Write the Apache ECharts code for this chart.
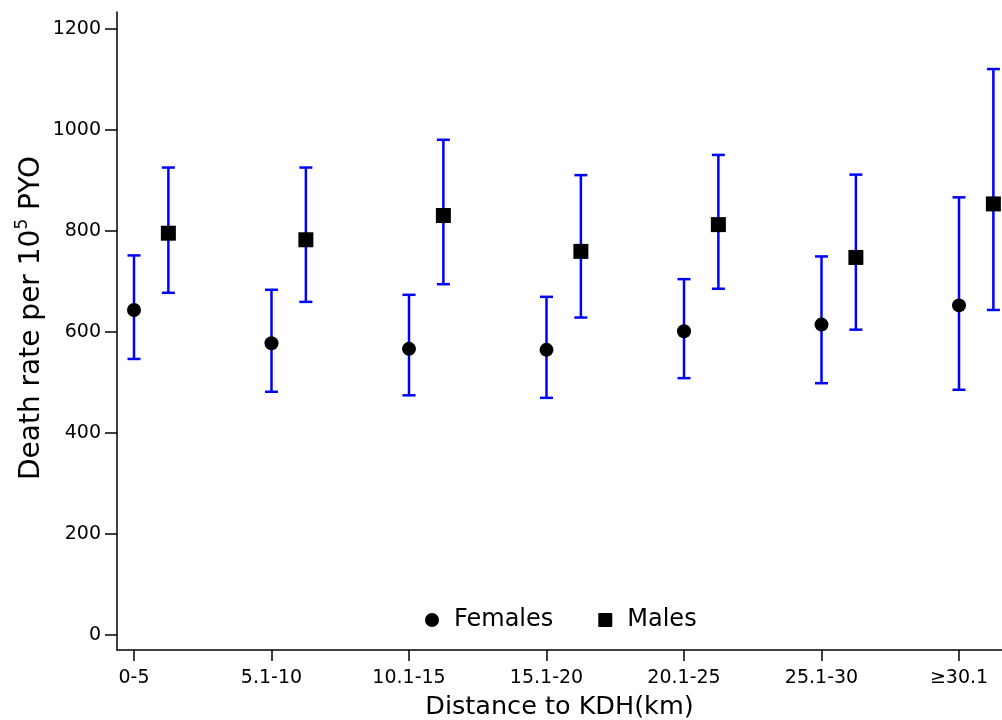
<!DOCTYPE html>
<html>
<head>
<meta charset="utf-8">
<script src="https://cdn.jsdelivr.net/npm/echarts@6/dist/echarts.min.js"></script>
<style>
  html, body { margin: 0; padding: 0; background: #fff; overflow: hidden; width: 1002px; height: 720px; }
  #chart { width: 1002px; height: 720px; display: block; }
</style>
</head>
<body>
<div id="chart"></div>
<script>
// ---- data ----
const categories = ['0-5', '5.1-10', '10.1-15', '15.1-20', '20.1-25', '25.1-30', '≥30.1'];
const femaleRate = [643, 577, 566, 564, 601, 614, 652];
const femaleLow  = [546, 481, 474, 469, 508, 498, 485];
const femaleHigh = [751, 683, 673, 669, 704, 749, 866];
const maleRate   = [795, 782, 830, 759, 812, 747, 853];
const maleLow    = [677, 659, 694, 628, 685, 604, 643];
const maleHigh   = [925, 925, 980, 910, 950, 911, 1120];
const yTicks = [0, 200, 400, 600, 800, 1000, 1200];

// layout constant: males drawn slightly right of each category
const MALE_SHIFT = 0.25;

const FONT = 'DejaVu Sans';
const catIdx = categories.map((_, i) => i);

const femalePts = femaleRate.map((v, i) => [i, v]);
const malePts = maleRate.map((v, i) => [i + MALE_SHIFT, v]);
const femaleCI = femaleLow.map((lo, i) => [i, lo, femaleHigh[i]]);
const maleCI = maleLow.map((lo, i) => [i + MALE_SHIFT, lo, maleHigh[i]]);

function errBar(params, api) {
  const x = api.value(0), lo = api.value(1), hi = api.value(2);
  const top = api.coord([x, hi]);
  const bot = api.coord([x, lo]);
  const hw = 6.5;
  const st = { stroke: '#0000ff', lineWidth: 2.5 };
  return {
    type: 'group',
    children: [
      { type: 'line', shape: { x1: top[0], y1: top[1], x2: bot[0], y2: bot[1] }, style: st },
      { type: 'line', shape: { x1: top[0] - hw, y1: top[1], x2: top[0] + hw, y2: top[1] }, style: st },
      { type: 'line', shape: { x1: bot[0] - hw, y1: bot[1], x2: bot[0] + hw, y2: bot[1] }, style: st }
    ]
  };
}

const chart = echarts.init(document.getElementById('chart'), null, { renderer: 'canvas', width: 1002, height: 720 });
chart.setOption({
  animation: false,
  backgroundColor: '#ffffff',
  textStyle: { fontFamily: FONT },
  grid: { left: 117, right: 0, top: 12, bottom: 70, containLabel: false, outerBoundsMode: 'none' },
  xAxis: {
    type: 'value',
    min: -0.1236,
    max: 6.3127,
    splitLine: { show: false },
    axisLine: { show: true, onZero: false, lineStyle: { color: '#000', width: 1.5 } },
    axisTick: { show: true, length: 11, customValues: catIdx, lineStyle: { color: '#000', width: 1.5 } },
    axisLabel: {
      customValues: catIdx,
      formatter: v => categories[Math.round(v)] || '',
      color: '#000', fontFamily: FONT, fontSize: 19, margin: 19
    },
    name: 'Distance to KDH(km)',
    nameLocation: 'middle',
    nameGap: 44,
    nameTextStyle: { color: '#000', fontFamily: FONT, fontSize: 25.5 }
  },
  yAxis: {
    type: 'value',
    min: -30.3,
    max: 1233,
    splitLine: { show: false },
    axisLine: { show: true, onZero: false, lineStyle: { color: '#000', width: 1.5 } },
    axisTick: { show: true, length: 12, customValues: yTicks, lineStyle: { color: '#000', width: 1.5 } },
    axisLabel: {
      customValues: yTicks,
      formatter: v => String(v),
      color: '#000', fontFamily: FONT, fontSize: 19, margin: 16
    }
  },
  legend: {
    left: 420,
    top: 603,
    padding: 5,
    itemWidth: 14,
    itemHeight: 14,
    itemGap: 45,
    selectedMode: false,
    textStyle: { color: '#000', fontFamily: FONT, fontSize: 24, padding: [0, 0, 0, 10] },
    data: [
      { name: 'Females', icon: 'circle' },
      { name: 'Males', icon: 'rect' }
    ]
  },
  graphic: [{
    type: 'text',
    x: 30,
    y: 318,
    rotation: Math.PI / 2,
    style: {
      text: '{a|Death rate per 10}{s|5}{a| PYO}',
      align: 'center',
      verticalAlign: 'middle',
      fill: '#000',
      rich: {
        a: { fontFamily: FONT, fontSize: 28, fill: '#000', lineHeight: 32, verticalAlign: 'bottom' },
        s: { fontFamily: FONT, fontSize: 17, fill: '#000', lineHeight: 32, verticalAlign: 'top' }
      }
    }
  }],
  series: [
    { name: 'femaleCI', type: 'custom', renderItem: errBar, data: femaleCI, z: 2, silent: true },
    { name: 'maleCI', type: 'custom', renderItem: errBar, data: maleCI, z: 2, silent: true },
    { name: 'Females', type: 'scatter', data: femalePts, symbol: 'circle', symbolSize: 14,
      itemStyle: { color: '#000', opacity: 1 }, z: 5 },
    { name: 'Males', type: 'scatter', data: malePts, symbol: 'rect', symbolSize: 15,
      itemStyle: { color: '#000', opacity: 1 }, z: 5 }
  ]
});
</script>
</body>
</html>
